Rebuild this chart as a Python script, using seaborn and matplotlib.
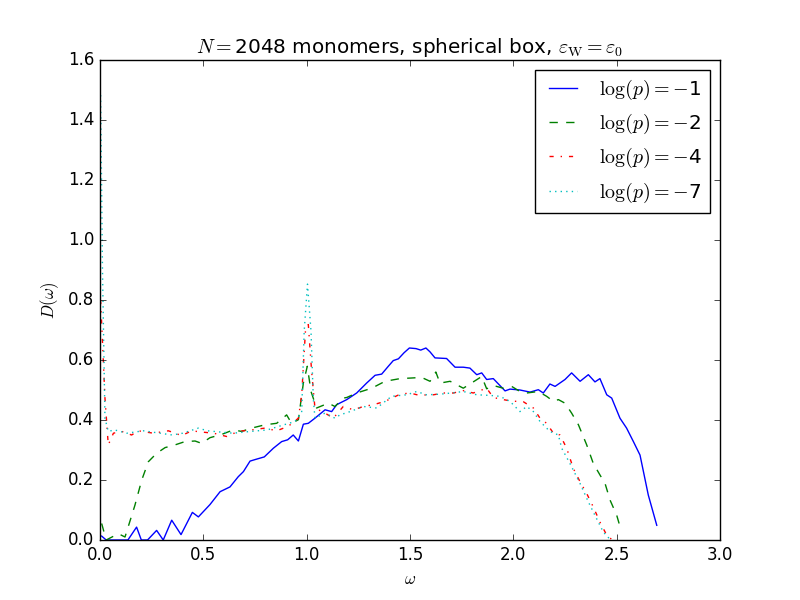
import numpy as np
import pandas as pd
import seaborn as sns
import matplotlib
matplotlib.use('Agg')
import matplotlib.pyplot as plt

plt.style.use('classic')

# log(p) = -1
omega_1 = [0.008, 0.03, 0.135, 0.177, 0.2, 0.23, 0.274, 0.306, 0.347, 0.392, 0.447, 0.476,
           0.532, 0.581, 0.629, 0.669, 0.694, 0.726, 0.75, 0.795, 0.839, 0.879, 0.908, 0.935,
           0.96, 0.984, 1.008, 1.04, 1.089, 1.121, 1.145, 1.194, 1.242, 1.29, 1.331, 1.363,
           1.395, 1.419, 1.444, 1.471, 1.497, 1.529, 1.552, 1.577, 1.597, 1.621, 1.677, 1.718,
           1.758, 1.79, 1.823, 1.847, 1.871, 1.903, 1.935, 1.96, 1.984, 2.032, 2.081, 2.121,
           2.145, 2.177, 2.202, 2.25, 2.282, 2.323, 2.363, 2.395, 2.419, 2.452, 2.476, 2.516,
           2.548, 2.581, 2.613, 2.653, 2.694]
d_1 = [0.013, 0.0, 0.0, 0.043, 0.0, 0.0, 0.032, 0.0, 0.066, 0.018, 0.092, 0.077,
       0.118, 0.161, 0.177, 0.211, 0.228, 0.263, 0.268, 0.277, 0.306, 0.328, 0.334, 0.35,
       0.33, 0.386, 0.389, 0.406, 0.434, 0.428, 0.451, 0.468, 0.49, 0.523, 0.549, 0.553,
       0.579, 0.598, 0.604, 0.624, 0.64, 0.638, 0.633, 0.64, 0.627, 0.607, 0.605, 0.576,
       0.576, 0.573, 0.551, 0.557, 0.535, 0.538, 0.515, 0.497, 0.503, 0.5, 0.493, 0.501,
       0.49, 0.52, 0.512, 0.535, 0.557, 0.529, 0.551, 0.527, 0.538, 0.484, 0.473, 0.406,
       0.373, 0.328, 0.283, 0.15, 0.049]

# log(p) = -2
omega_2 = [0.008, 0.03, 0.089, 0.121, 0.169, 0.202, 0.234, 0.274, 0.315, 0.363, 0.411, 0.46,
           0.492, 0.532, 0.589, 0.645, 0.685, 0.734, 0.798, 0.855, 0.903, 0.927, 0.96, 0.984,
           1.003, 1.021, 1.048, 1.105, 1.137, 1.177, 1.194, 1.242, 1.315, 1.379, 1.452, 1.508,
           1.556, 1.597, 1.625, 1.645, 1.694, 1.758, 1.806, 1.847, 1.871, 1.903, 1.951, 1.992,
           2.032, 2.065, 2.121, 2.161, 2.194, 2.218, 2.25, 2.282, 2.315, 2.355, 2.387, 2.419,
           2.444, 2.468, 2.5, 2.519]
d_2 = [0.055, 0.0, 0.021, 0.01, 0.116, 0.2, 0.261, 0.289, 0.308, 0.317, 0.328, 0.33,
       0.322, 0.341, 0.352, 0.367, 0.362, 0.373, 0.384, 0.389, 0.417, 0.389, 0.401, 0.523,
       0.579, 0.495, 0.44, 0.456, 0.445, 0.473, 0.475, 0.49, 0.506, 0.529, 0.538, 0.54,
       0.542, 0.529, 0.56, 0.523, 0.529, 0.506, 0.527, 0.545, 0.504, 0.515, 0.506, 0.512,
       0.495, 0.49, 0.495, 0.479, 0.462, 0.468, 0.456, 0.423, 0.384, 0.317, 0.255, 0.217,
       0.188, 0.133, 0.083, 0.038]

# log(p) = -4
omega_4 = [0.003, 0.024, 0.04, 0.065, 0.105, 0.153, 0.185, 0.258, 0.331, 0.395, 0.444, 0.49,
           0.55, 0.613, 0.669, 0.734, 0.798, 0.855, 0.911, 0.96, 0.976, 0.995, 1.008, 1.024,
           1.04, 1.089, 1.129, 1.177, 1.226, 1.274, 1.323, 1.379, 1.452, 1.5, 1.54, 1.613,
           1.66, 1.71, 1.758, 1.806, 1.871, 1.903, 1.951, 1.992, 2.048, 2.097, 2.129, 2.161,
           2.194, 2.226, 2.258, 2.29, 2.323, 2.355, 2.387, 2.419, 2.452, 2.476, 2.497]
d_4 = [0.8, 0.473, 0.317, 0.356, 0.362, 0.35, 0.364, 0.356, 0.364, 0.348, 0.364, 0.36,
       0.356, 0.345, 0.362, 0.367, 0.373, 0.364, 0.379, 0.406, 0.484, 0.707, 0.718, 0.562,
       0.44, 0.423, 0.406, 0.445, 0.434, 0.445, 0.451, 0.462, 0.486, 0.49, 0.483, 0.484,
       0.49, 0.49, 0.498, 0.49, 0.506, 0.475, 0.468, 0.463, 0.461, 0.44, 0.406, 0.389,
       0.356, 0.35, 0.306, 0.239, 0.194, 0.155, 0.11, 0.06, 0.016, 0.002, 0.016]

# log(p) = -7
omega_7 = [0.003, 0.012, 0.024, 0.04, 0.07, 0.13, 0.21, 0.29, 0.35, 0.4, 0.476, 0.52,
           0.58, 0.645, 0.73, 0.81, 0.89, 0.944, 0.976, 0.988, 1.004, 1.021, 1.032, 1.04,
           1.089, 1.137, 1.161, 1.21, 1.274, 1.339, 1.411, 1.484, 1.532, 1.58, 1.645, 1.7,
           1.758, 1.823, 1.887, 1.935, 1.984, 2.032, 2.065, 2.097, 2.129, 2.177, 2.218, 2.234,
           2.274, 2.323, 2.363, 2.403, 2.435, 2.468]
d_7 = [1.483, 0.9, 0.406, 0.362, 0.367, 0.356, 0.364, 0.356, 0.35, 0.356, 0.373, 0.364,
       0.36, 0.356, 0.362, 0.367, 0.384, 0.395, 0.428, 0.696, 0.853, 0.696, 0.473, 0.406,
       0.423, 0.406, 0.417, 0.428, 0.445, 0.44, 0.479, 0.484, 0.495, 0.484, 0.486, 0.49,
       0.495, 0.484, 0.482, 0.479, 0.462, 0.428, 0.445, 0.428, 0.395, 0.362, 0.35, 0.306,
       0.255, 0.188, 0.127, 0.071, 0.027, 0.002]

labels = [r'$\log(p)=-$1', r'$\log(p)=-$2', r'$\log(p)=-$4', r'$\log(p)=-$7']
colors = ['b', 'g', 'r', 'c']
styles = ['-', '--', '-.', ':']

series = [(omega_1, d_1), (omega_2, d_2), (omega_4, d_4), (omega_7, d_7)]

fig, ax = plt.subplots(figsize=(8, 6), dpi=100)
fig.patch.set_facecolor('white')

for (om, dv), lab, col, ls in zip(series, labels, colors, styles):
    df = pd.DataFrame({'omega': om, 'D': dv})
    sns.lineplot(data=df, x='omega', y='D', ax=ax, color=col, linestyle=ls,
                 linewidth=1.0, label=lab, sort=False, estimator=None)

ax.set_xlim(0, 3.0)
ax.set_ylim(0, 1.6)
ax.set_xlabel(r'$\omega$')
ax.set_ylabel(r'$D(\omega)$')
ax.set_title(r'$N=$2048 monomers, spherical box, $\varepsilon_{\rm W}=\varepsilon_0$')
ax.legend(loc='upper right')

fig.savefig('out.png', dpi=100, facecolor='white')
